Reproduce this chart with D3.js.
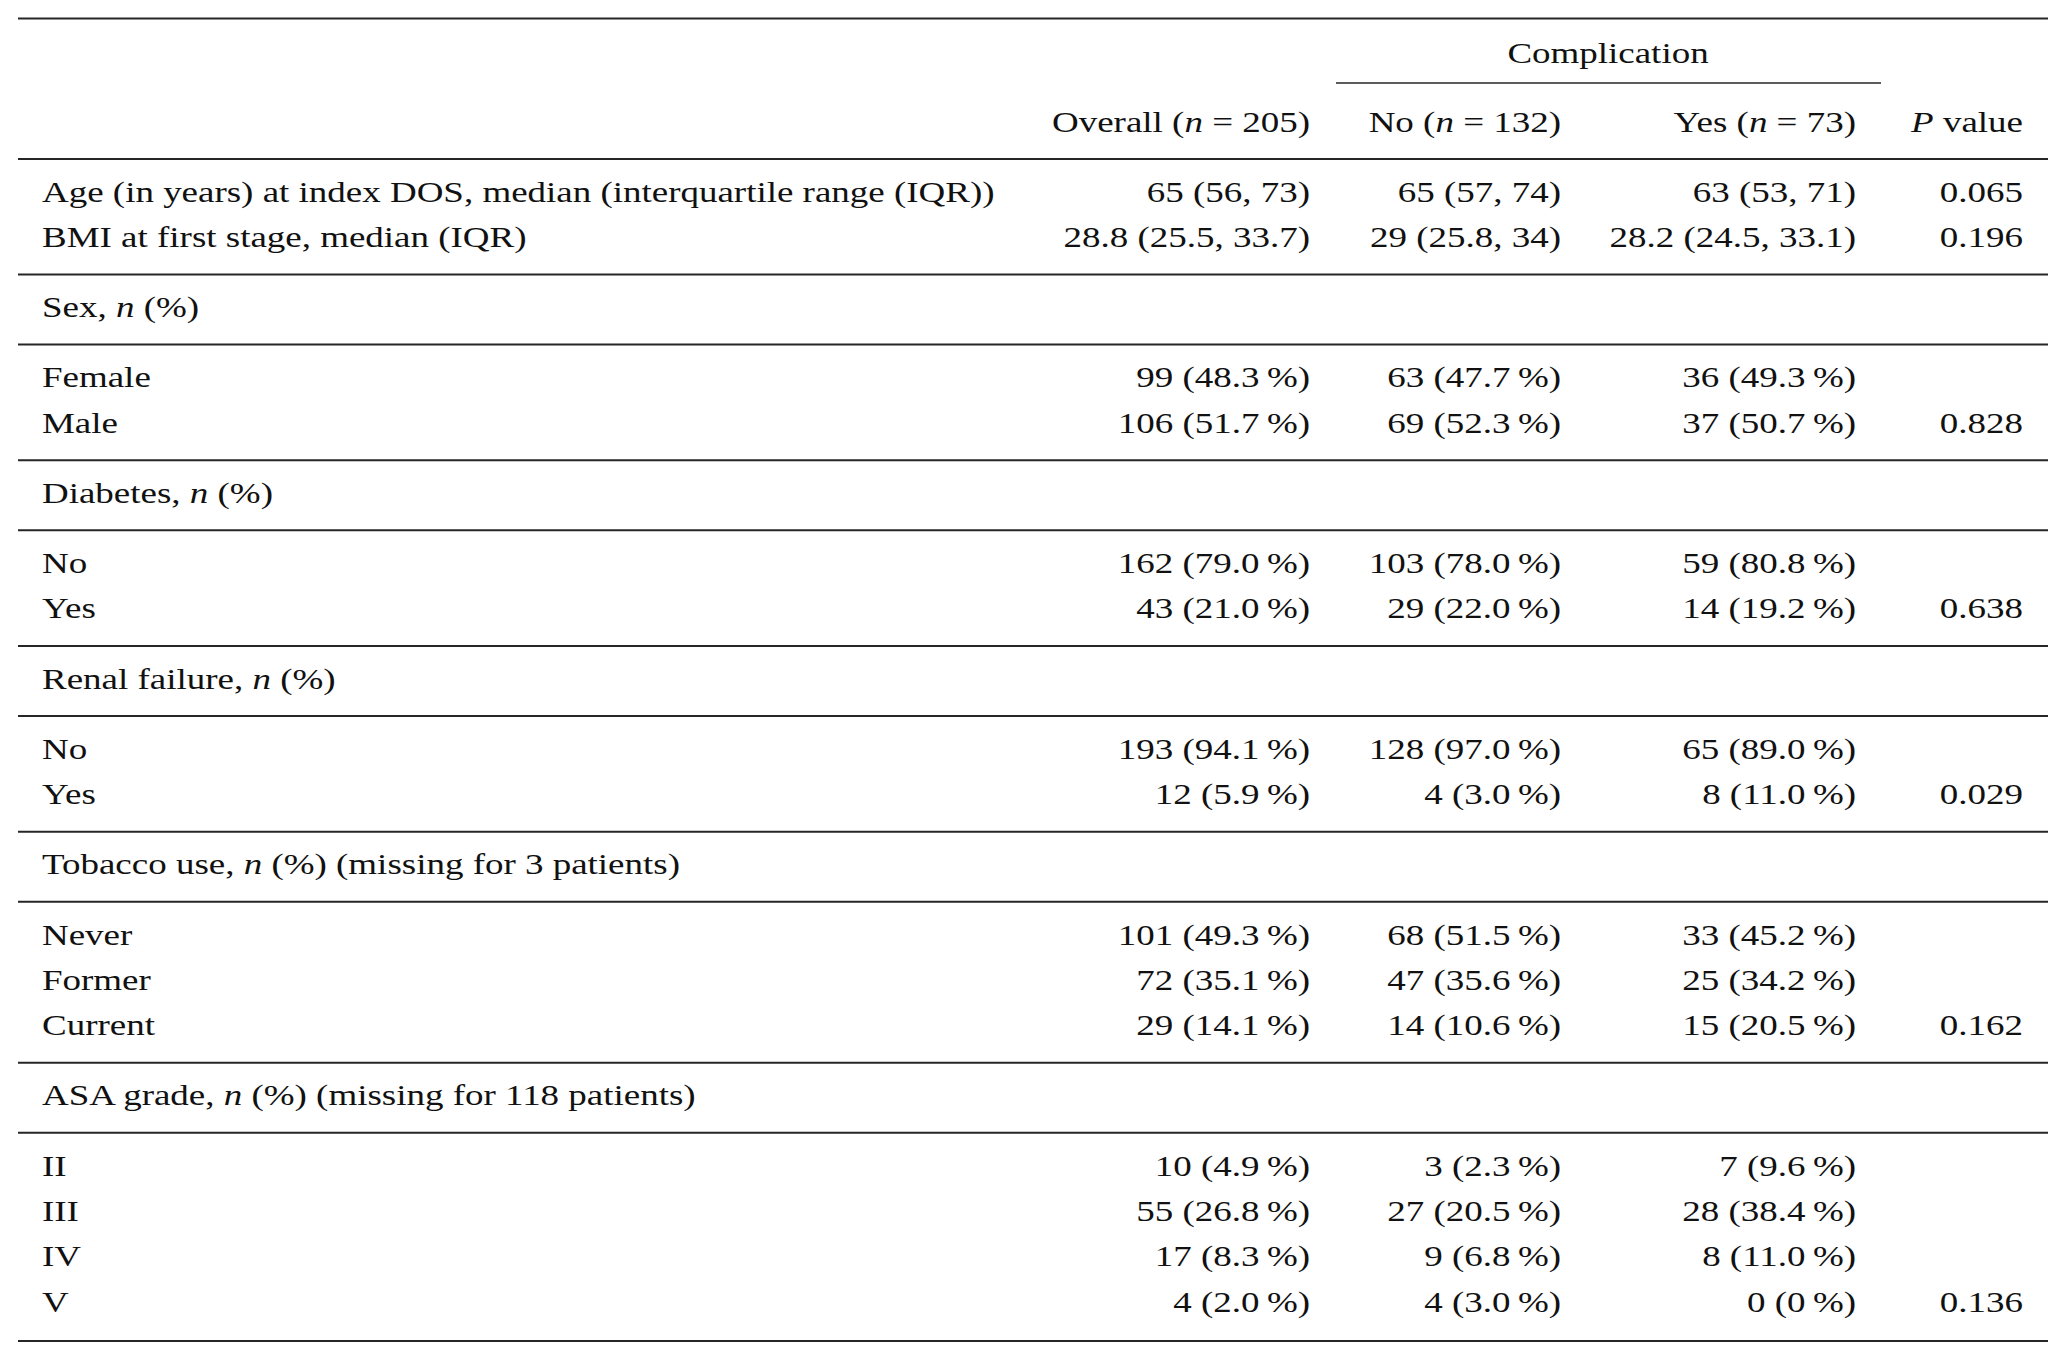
<!DOCTYPE html>
<html>
<head>
<meta charset="utf-8">
<script src="https://cdn.jsdelivr.net/npm/d3@7"></script>
<style>
  html, body { margin: 0; padding: 0; background: #fff; }
</style>
</head>
<body>
<svg id="chart" width="2067" height="1359"></svg>
<script>
// row labels, _x_ marks italic text
const rowLabels = [
  "Age (in years) at index DOS, median (interquartile range (IQR))",
  "BMI at first stage, median (IQR)",
  "Sex, _n_ (%)", "Female", "Male",
  "Diabetes, _n_ (%)", "No", "Yes",
  "Renal failure, _n_ (%)", "No", "Yes",
  "Tobacco use, _n_ (%) (missing for 3 patients)", "Never", "Former", "Current",
  "ASA grade, _n_ (%) (missing for 118 patients)", "II", "III", "IV", "V"
];
const isHeading = [0, 0, 1, 0, 0, 1, 0, 0, 1, 0, 0, 1, 0, 0, 0, 1, 0, 0, 0, 0];

const colHeaders = ["Overall (_n_ = 205)", "No (_n_ = 132)", "Yes (_n_ = 73)", "_P_ value"];
const spanner = "Complication";

const overall = ["65 (56, 73)", "28.8 (25.5, 33.7)", "", "99 (48.3 %)", "106 (51.7 %)",
  "", "162 (79.0 %)", "43 (21.0 %)", "", "193 (94.1 %)", "12 (5.9 %)",
  "", "101 (49.3 %)", "72 (35.1 %)", "29 (14.1 %)",
  "", "10 (4.9 %)", "55 (26.8 %)", "17 (8.3 %)", "4 (2.0 %)"];
const compNo = ["65 (57, 74)", "29 (25.8, 34)", "", "63 (47.7 %)", "69 (52.3 %)",
  "", "103 (78.0 %)", "29 (22.0 %)", "", "128 (97.0 %)", "4 (3.0 %)",
  "", "68 (51.5 %)", "47 (35.6 %)", "14 (10.6 %)",
  "", "3 (2.3 %)", "27 (20.5 %)", "9 (6.8 %)", "4 (3.0 %)"];
const compYes = ["63 (53, 71)", "28.2 (24.5, 33.1)", "", "36 (49.3 %)", "37 (50.7 %)",
  "", "59 (80.8 %)", "14 (19.2 %)", "", "65 (89.0 %)", "8 (11.0 %)",
  "", "33 (45.2 %)", "25 (34.2 %)", "15 (20.5 %)",
  "", "7 (9.6 %)", "28 (38.4 %)", "8 (11.0 %)", "0 (0 %)"];
const pValues = ["0.065", "0.196", "", "", "0.828",
  "", "", "0.638", "", "", "0.029",
  "", "", "", "0.162",
  "", "", "", "", "0.136"];

const svg = d3.select("#chart");
const W = 2067, H = 1359;
const fs = 30;
const font = "'Liberation Serif', 'Times New Roman', 'DejaVu Serif', serif";
const lineColor = "#262626";

svg.append("rect").attr("width", W).attr("height", H).attr("fill", "#fff");

// horizontal stretch so the first label spans like in the source
const probe = svg.append("text").attr("font-family", font).attr("font-size", fs)
  .text(rowLabels[0]);
const sx = 953 / probe.node().getComputedTextLength();
probe.remove();

// row positions in "units": 1 between data rows, 1.55 across a rule
const units = [];
rowLabels.forEach((d, i) => {
  if (i === 0) units.push(0);
  else units.push(units[i - 1] + ((isHeading[i] || isHeading[i - 1]) ? 1.55 : 1));
});
const y = d3.scaleLinear().domain([0, d3.max(units)]).range([191, 1301]);
const baseOff = 10.5;

const cols = ["overall", "no", "yes", "p"];
const colData = { overall: overall, no: compNo, yes: compYes, p: pValues };
const x = d3.scaleOrdinal().domain(cols).range([1310, 1561, 1856, 2023]);
const xLeft = 42, xRule0 = 18, xRule1 = 2048;

function addText(g, str, px, py, anchor) {
  const t = g.append("text")
    .attr("transform", `translate(${px},${py}) scale(${sx},1)`)
    .attr("text-anchor", anchor)
    .attr("font-family", font)
    .attr("font-size", fs)
    .attr("fill", "#111");
  str.split("_").forEach((part, k) => {
    if (!part) return;
    t.append("tspan").attr("font-style", k % 2 ? "italic" : "normal").text(part);
  });
  return t;
}

// rules
const rules = [18.5, 159];
rowLabels.forEach((d, i) => {
  if (isHeading[i]) {
    rules.push(y(units[i]) - 32);
    rules.push(y(units[i]) + 38);
  }
});
rules.push(y(d3.max(units)) + 40);

svg.append("g").selectAll("line").data(rules).join("line")
  .attr("x1", xRule0).attr("x2", xRule1)
  .attr("y1", d => d).attr("y2", d => d)
  .attr("stroke", lineColor).attr("stroke-width", 2);

// header
const head = svg.append("g");
addText(head, spanner, 1608, 63, "middle");
head.append("line")
  .attr("x1", 1336).attr("x2", 1881).attr("y1", 83).attr("y2", 83)
  .attr("stroke", lineColor).attr("stroke-width", 1.6);
cols.forEach((c, j) => addText(head, colHeaders[j], x(c), 132, "end"));

// body
const body = svg.append("g");
rowLabels.forEach((lab, i) => {
  const by = y(units[i]) + baseOff;
  addText(body, lab, xLeft, by, "start");
  cols.forEach(c => {
    const v = colData[c][i];
    if (v) addText(body, v.replace(" %", "\u2009%"), x(c), by, "end");
  });
});
</script>
</body>
</html>
